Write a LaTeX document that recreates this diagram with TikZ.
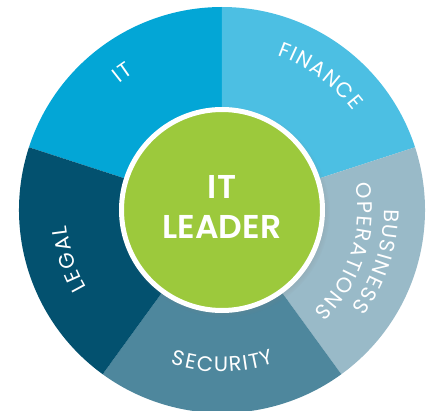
\documentclass[tikz,border=0pt]{standalone}
\usepackage{fontspec}
\setmainfont{Poppins}
\newfontfamily\leaderfont{Poppins SemiBold}
\usetikzlibrary{decorations.text,shadows}

\definecolor{itblue}{HTML}{03A6D6}
\definecolor{financeblue}{HTML}{4CBFE3}
\definecolor{opsgray}{HTML}{99BAC8}
\definecolor{securityblue}{HTML}{4E879D}
\definecolor{legalblue}{HTML}{03516F}
\definecolor{leadergreen}{HTML}{9CC93C}

\tikzset{
	ringlabel/.style={decorate, decoration={text along path, text align=center, text color=white, text={|\fontsize{21}{21}\selectfont\kern1.5pt|#1}}}
}

\begin{document}
\begin{tikzpicture}[x=1pt, y=1pt]
		\useasboundingbox (-222,-200) rectangle (204,210);
		\clip (-222,-200) rectangle (204,210);
		
		\fill [itblue] (0,0) -- (162:203) arc [start angle=162, end angle=90, radius=203] -- cycle;
		\fill [financeblue] (0,0) -- (90:203) arc [start angle=90, end angle=18, radius=203] -- cycle;
		\fill [opsgray] (0,0) -- (18:203) arc [start angle=18, end angle=-54, radius=203] -- cycle;
		\fill [securityblue] (0,0) -- (-54:203) arc [start angle=-54, end angle=-126, radius=203] -- cycle;
		\fill [legalblue] (0,0) -- (-126:203) arc [start angle=-126, end angle=-198, radius=203] -- cycle;
		
		\path [ringlabel=IT] (162:163) arc [start angle=162, end angle=90, radius=163];
		\path [ringlabel=FINANCE] (90:164) arc [start angle=90, end angle=18, radius=164];
		\path [ringlabel=BUSINESS] (18:162) arc [start angle=18, end angle=-54, radius=162];
		\path [ringlabel=OPERATIONS] (18:136) arc [start angle=18, end angle=-54, radius=136];
		\path [ringlabel=SECURITY] (-126:162) arc [start angle=-126, end angle=-54, radius=162];
		\path [ringlabel=LEGAL] (234:156) arc [start angle=234, end angle=162, radius=156];
		
		\node (leader) [circle, fill=leadergreen, draw=white, line width=5pt, minimum size=201pt,
			circular drop shadow={shadow xshift=2pt, shadow yshift=-2pt, shadow scale=1.05, opacity=.45}] at (0,0) {};
		\node (leadertext) [align=center, text=white, font=\leaderfont\fontsize{33}{40}\selectfont] at (0,3) {IT\\LEADER};
		
		\end{tikzpicture}
\end{document}
